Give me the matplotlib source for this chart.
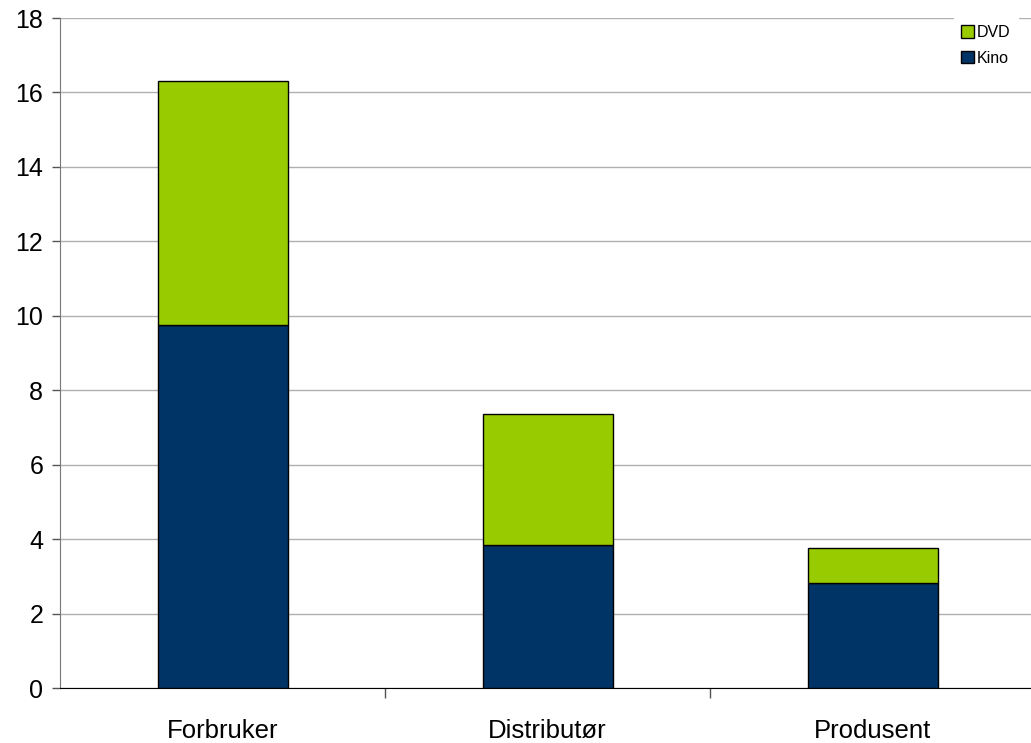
import matplotlib
matplotlib.use("Agg")
import matplotlib.pyplot as plt
import numpy as np

categories = ["Forbruker", "Distributør", "Produsent"]
kino = [9.76, 3.84, 2.82]
dvd = [6.56, 3.53, 0.94]

plt.rcParams['font.family'] = ['Liberation Sans', 'DejaVu Sans']

fig = plt.figure(figsize=(10.31, 7.43), dpi=100)
ax = fig.add_axes([60/1031, 55/743, 975/1031, 670/743])

x = np.arange(len(categories))
w = 0.4
b1 = ax.bar(x, kino, w, color="#003366", edgecolor="black", linewidth=1.0, label="Kino", zorder=3)
b2 = ax.bar(x, dvd, w, bottom=kino, color="#99CC00", edgecolor="black", linewidth=1.0, label="DVD", zorder=3)

ax.set_xlim(-0.5, 2.5)
ax.set_ylim(0, 18)
ax.set_yticks(range(0, 19, 2))
ax.yaxis.grid(True, color="#b0b0b0", linewidth=1.0, zorder=0)
ax.set_axisbelow(True)

ax.set_xticks([0.5, 1.5])
ax.set_xticklabels([])
ax.set_xticks(x, minor=True)
ax.set_xticklabels(categories, minor=True)
ax.tick_params(axis='x', which='major', direction='out', length=7, width=1, color='#555555')
ax.tick_params(axis='x', which='minor', length=0, pad=22, labelsize=18.5)
ax.tick_params(axis='y', direction='out', length=6, width=1, color='#555555', labelsize=18, pad=6)

for s in ["top", "right"]:
    ax.spines[s].set_visible(False)
ax.spines["left"].set_color("#777777")
ax.spines["bottom"].set_color("black")

leg = ax.legend(handles=[b2, b1], loc="upper right",
                bbox_to_anchor=((1026 - 60) / 975, 1.012),
                frameon=True, fontsize=11.5, handlelength=0.8, handleheight=0.8,
                handletextpad=0.2, labelspacing=0.65, borderpad=0.45)
leg.get_frame().set_facecolor("white")
leg.get_frame().set_edgecolor("white")
leg.get_frame().set_alpha(1)
leg.get_frame().set_boxstyle("square", pad=0)

fig.savefig("out.png", dpi=100)
